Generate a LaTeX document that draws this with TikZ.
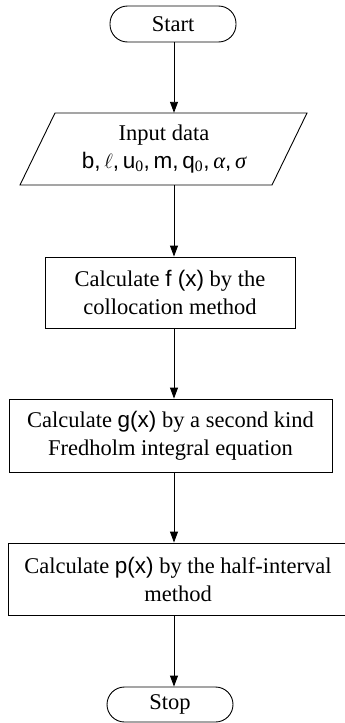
\documentclass[tikz,border=0pt]{standalone}
\usepackage{fontspec}
\setmainfont{Liberation Serif}
\newfontfamily\sfx{Liberation Sans}
\usetikzlibrary{arrows.meta}
\begin{document}
\begin{tikzpicture}[x=1pt,y=-1pt,
  every node/.style={font=\fontsize{22.5}{28}\selectfont},
  term/.style={draw, line width=0.9pt, rounded corners=17.5pt, minimum width=126pt, minimum height=36pt, inner sep=0pt},
  proc/.style={draw, line width=0.9pt, inner sep=0pt, align=center},
  shapeline/.style={line width=0.9pt},
  flow/.style={line width=0.9pt, -{Triangle[length=11pt,width=8pt]}}]
\useasboundingbox (0,0) rectangle (345,723);
\clip (0,0) rectangle (345,723);
\coordinate (ax) at (174,0);
\node[term] (start) at (173,24) {Start};
\node[inner sep=0pt, minimum width=217pt, minimum height=72pt, align=center] (inp) at (164,149)
  {Input data\\{\sfx b,\,$\ell$,\,u\textsubscript{\rmfamily 0},\,m,\,q\textsubscript{\rmfamily 0},\,{\rmfamily\itshape α},\,{\rmfamily\itshape σ}}};
\draw[shapeline] (55,113) -- (307,113) -- (272,185) -- (20,185) -- cycle;
\node[proc, minimum width=250pt, minimum height=71pt] (b1) at (170,292.5)
  {Calculate {\sfx f (x)} by the\\collocation method};
\node[proc, minimum width=323pt, minimum height=73pt] (b2) at (170.5,435.5)
  {Calculate {\sfx g(x)} by a second kind\\Fredholm integral equation};
\node[proc, minimum width=340pt, minimum height=72pt] (b3) at (178,579)
  {Calculate {\sfx p(x)} by the half-interval\\method};
\node[term, minimum height=35pt] (stop) at (170,704.5) {Stop};
\draw[flow] (start.south -| ax) -- (inp.north -| ax);
\draw[flow] (inp.south -| ax) -- (b1.north -| ax);
\draw[flow] (b1.south -| ax) -- (b2.north -| ax);
\draw[flow] (b2.south -| ax) -- (b3.north -| ax);
\draw[flow] (b3.south -| ax) -- (stop.north -| ax);
\end{tikzpicture}
\end{document}
